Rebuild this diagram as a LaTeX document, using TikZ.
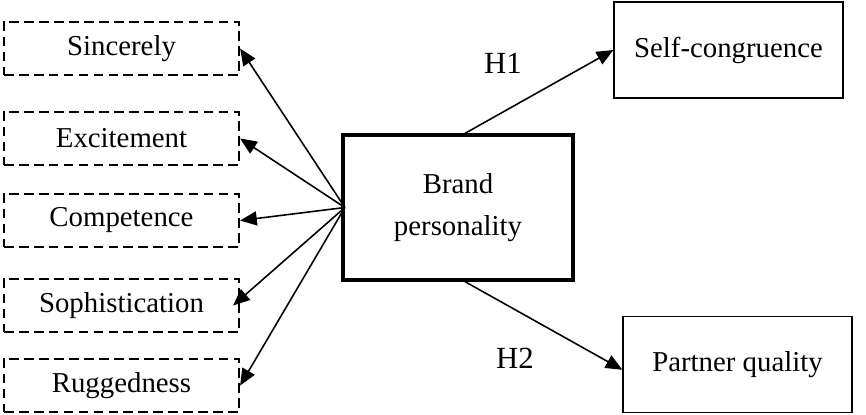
\documentclass[tikz,border=0pt]{standalone}
\usepackage{fontspec}
\setmainfont{Liberation Serif}
\usepackage{tikz}
\usetikzlibrary{positioning, arrows.meta}
\tikzset{
  dimbox/.style = {draw, dashed, line width=1.3pt, dash pattern=on 5.5pt off 3pt, minimum width=4.7cm, minimum height=1.06cm, inner sep=0pt, font=\fontsize{16.4}{23.8}\selectfont},
  link/.style = {line width=0.9pt, -{Triangle[length=9.5pt, width=8pt]}},
}

\begin{document}
\begin{tikzpicture}[x=0.02cm, y=-0.02cm]
	\useasboundingbox (0,0) rectangle (866,414);

	% the five dimensions
	\node[dimbox] (sinc) at (121.5,48.5)  {Sincerely};
	\node[dimbox] (exci) at (121.5,138.5) {Excitement};
	\node[dimbox] (comp) at (121.5,220.5) {Competence};
	\node[dimbox] (soph) at (121.5,305.5) {Sophistication};
	\node[dimbox] (rugg) at (121.5,385.5) {Ruggedness};

	\tikzset{
		outcome/.style={draw, line width=0.7pt, minimum width=4.58cm, minimum height=1.92cm, inner sep=0pt, font=\fontsize{16.4}{23.8}\selectfont},
	}
	\node[draw, line width=1.9pt, minimum width=4.6cm, minimum height=2.9cm, align=center, font=\fontsize{16.4}{23.8}\selectfont] (brand) at (458,207.5) {Brand\\personality};
	\node[outcome] (self) at (728.5,50) {Self-congruence};
	\node[outcome] (partner) at (737.5,364.5) {Partner quality};

	\coordinate (bw) at ([xshift=2pt]brand.west);
	\draw[link] (bw) -- (sinc.east);
	\draw[link] (bw) -- (exci.east);
	\draw[link] (bw) -- (comp.east);
	\draw[link] (bw) -- ([xshift=-4pt]soph.east);
	\draw[link] (bw) -- (rugg.east);

	\draw[link] ([xshift=4pt]brand.north) -- (self.west);
	\draw[link] ([xshift=4pt]brand.south) -- ([yshift=-3pt]partner.west);
	\node[font=\fontsize{17.5}{21}\selectfont] (h1) at (503,63) {H1};
	\node[font=\fontsize{17.5}{21}\selectfont] (h2) at (515,358) {H2};
\end{tikzpicture}
\end{document}
